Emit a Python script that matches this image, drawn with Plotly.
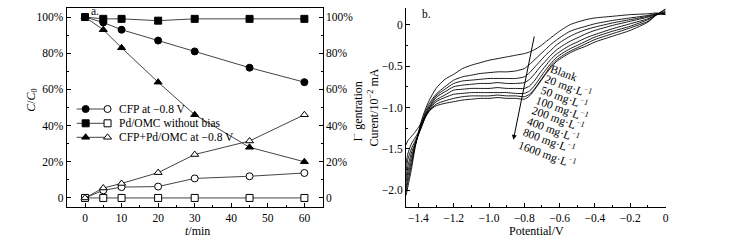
import plotly.graph_objects as go

# ---------------- data: panel a ----------------
time_min = [0, 5, 10, 20, 30, 45, 60]
cfp_conc = [100, 97, 93, 87, 81, 72, 64]
cfp_iodide = [0, 4.2, 6, 6.3, 10.8, 12, 13.8]
pdomc_conc = [100, 99, 99, 98, 99, 99, 99]
pdomc_iodide = [0, 0, 0, 0, 0, 0, 0]
combo_conc = [100, 93, 83, 64, 46, 28, 20]
combo_iodide = [0, 5.5, 8, 14, 24, 31.5, 46]
series_names = ["CFP at \u22120.8 V", "Pd/OMC without bias", "CFP+Pd/OMC at \u22120.8 V"]
pct_ticks = [0, 20, 40, 60, 80, 100]
pct_labels = ["0", "20%", "40%", "60%", "80%", "100%"]

# ---------------- data: panel b ----------------
potential = [-1.47, -1.46, -1.44, -1.42, -1.40, -1.38, -1.36, -1.34, -1.30, -1.25, -1.20, -1.15,
             -1.10, -1.05, -1.00, -0.95, -0.90, -0.85, -0.80, -0.77, -0.74, -0.71, -0.68, -0.65,
             -0.62, -0.58, -0.54, -0.50, -0.45, -0.40, -0.30, -0.20, -0.10, -0.05, 0.00]
cv_blank = [-2.06, -1.96, -1.75, -1.50, -1.30, -1.14, -1.02, -0.92, -0.77, -0.66, -0.60, -0.53,
            -0.49, -0.46, -0.43, -0.41, -0.39, -0.37, -0.35, -0.33, -0.30, -0.26, -0.21, -0.16,
            -0.11, -0.05, 0.00, 0.03, 0.06, 0.08, 0.10, 0.12, 0.13, 0.14, 0.12]
cv_20 = [-2.02, -1.90, -1.70, -1.48, -1.31, -1.17, -1.05, -0.96, -0.84, -0.75, -0.67, -0.63,
         -0.61, -0.59, -0.58, -0.57, -0.57, -0.56, -0.53, -0.48, -0.42, -0.36, -0.30, -0.24,
         -0.19, -0.13, -0.08, -0.05, -0.02, 0.01, 0.05, 0.08, 0.11, 0.13, 0.12]
cv_50 = [-1.97, -1.84, -1.65, -1.47, -1.32, -1.19, -1.07, -0.99, -0.86, -0.78, -0.71, -0.68,
         -0.67, -0.66, -0.65, -0.65, -0.65, -0.65, -0.63, -0.58, -0.51, -0.44, -0.37, -0.31,
         -0.25, -0.19, -0.14, -0.10, -0.06, -0.03, 0.02, 0.06, 0.10, 0.13, 0.13]
cv_100 = [-1.90, -1.78, -1.60, -1.46, -1.33, -1.21, -1.09, -1.01, -0.88, -0.81, -0.75, -0.73,
          -0.72, -0.71, -0.71, -0.70, -0.71, -0.71, -0.70, -0.66, -0.59, -0.51, -0.44, -0.37,
          -0.31, -0.25, -0.20, -0.16, -0.11, -0.07, -0.01, 0.04, 0.09, 0.12, 0.14]
cv_200 = [-1.84, -1.71, -1.55, -1.44, -1.33, -1.22, -1.10, -1.02, -0.91, -0.85, -0.79, -0.78,
          -0.77, -0.77, -0.77, -0.76, -0.77, -0.77, -0.77, -0.74, -0.67, -0.58, -0.50, -0.42,
          -0.36, -0.30, -0.25, -0.21, -0.16, -0.12, -0.05, 0.01, 0.07, 0.12, 0.15]
cv_400 = [-1.76, -1.63, -1.50, -1.41, -1.32, -1.22, -1.11, -1.04, -0.93, -0.88, -0.84, -0.83,
          -0.82, -0.82, -0.82, -0.82, -0.82, -0.83, -0.83, -0.80, -0.73, -0.64, -0.55, -0.47,
          -0.40, -0.34, -0.29, -0.25, -0.20, -0.15, -0.08, -0.02, 0.06, 0.12, 0.16]
cv_800 = [-1.68, -1.56, -1.44, -1.37, -1.30, -1.21, -1.12, -1.05, -0.96, -0.92, -0.89, -0.87,
          -0.86, -0.86, -0.86, -0.85, -0.86, -0.86, -0.87, -0.84, -0.77, -0.68, -0.59, -0.50,
          -0.43, -0.37, -0.32, -0.28, -0.23, -0.18, -0.11, -0.04, 0.04, 0.12, 0.18]
cv_1600 = [-1.45, -1.40, -1.35, -1.30, -1.24, -1.17, -1.10, -1.04, -0.98, -0.95, -0.93, -0.91,
           -0.90, -0.89, -0.89, -0.88, -0.89, -0.89, -0.90, -0.86, -0.78, -0.69, -0.60, -0.52,
           -0.45, -0.39, -0.34, -0.30, -0.26, -0.21, -0.14, -0.07, 0.03, 0.12, 0.19]
cv_labels = ["Blank", "20 mg\u00b7L<sup>\u22121</sup>", "50 mg\u00b7L<sup>\u22121</sup>",
             "100 mg\u00b7L<sup>\u22121</sup>", "200 mg\u00b7L<sup>\u22121</sup>",
             "400 mg\u00b7L<sup>\u22121</sup>", "800 mg\u00b7L<sup>\u22121</sup>",
             "1600 mg\u00b7L<sup>\u22121</sup>"]
cv_label_x = [-0.575, -0.548, -0.573, -0.588, -0.611, -0.636, -0.660, -0.670]
cv_label_y = [-0.588, -0.745, -0.883, -1.011, -1.132, -1.270, -1.398, -1.572]
pot_ticks = [-1.4, -1.2, -1.0, -0.8, -0.6, -0.4, -0.2, 0]
pot_labels = ["\u22121.4", "\u22121.2", "\u22121.0", "\u22120.8", "\u22120.6", "\u22120.4", "\u22120.2", "0"]
cur_ticks = [-2.0, -1.5, -1.0, -0.5, 0]
cur_labels = ["\u22122.0", "\u22121.5", "\u22121.0", "\u22120.5", "0"]

W, H = 732, 251
FONT = "Liberation Serif"
FS = 11.5
LINE = "#444444"

def px_x(p):
    return p / W

def px_y(p):
    return (H - p) / H

dom_a = [px_x(67), px_x(324)]
dom_b = [px_x(407.7), px_x(668.3)]
dom_y = [px_y(207), px_y(8)]

fig = go.Figure()

def mk(symbol, filled):
    return dict(symbol=symbol, size=7, color="black" if filled else "white",
                line=dict(color="black", width=1))

conc_sets = [(cfp_conc, "circle"), (pdomc_conc, "square"), (combo_conc, "triangle-up")]
iod_sets = [(cfp_iodide, "circle"), (pdomc_iodide, "square"), (combo_iodide, "triangle-up")]

for (vals, sym), name in zip(iod_sets, series_names):
    fig.add_trace(go.Scatter(x=time_min, y=vals, mode="lines+markers", name=name,
                             line=dict(color=LINE, width=1), marker=mk(sym, False),
                             xaxis="x", yaxis="y2", showlegend=False, cliponaxis=False))
for (vals, sym), name in zip(conc_sets, series_names):
    fig.add_trace(go.Scatter(x=time_min, y=vals, mode="lines+markers", name=name,
                             line=dict(color=LINE, width=1), marker=mk(sym, True),
                             xaxis="x", yaxis="y", showlegend=False, cliponaxis=False))

# custom legend (glyph layout in pixel coords on a hidden helper axis)
legend_rows = [109, 123.3, 137.3]
for row, sym, name in zip(legend_rows, ["circle", "square", "triangle-up"], series_names):
    fig.add_trace(go.Scatter(x=[77, 108], y=[row, row], mode="lines",
                             line=dict(color=LINE, width=1), xaxis="x3", yaxis="y4",
                             showlegend=False, hoverinfo="skip"))
    fig.add_trace(go.Scatter(x=[86], y=[row], mode="markers", marker=mk(sym, True),
                             xaxis="x3", yaxis="y4", showlegend=False, hoverinfo="skip"))
    fig.add_trace(go.Scatter(x=[108], y=[row], mode="markers", marker=mk(sym, False),
                             xaxis="x3", yaxis="y4", showlegend=False, hoverinfo="skip"))
    fig.add_annotation(x=px_x(117), y=px_y(row), xref="paper", yref="paper", text=name,
                       showarrow=False, xanchor="left", yanchor="middle",
                       font=dict(family=FONT, size=FS, color="black"))

# panel b curves
for vals, lab in zip([cv_blank, cv_20, cv_50, cv_100, cv_200, cv_400, cv_800, cv_1600], cv_labels):
    fig.add_trace(go.Scatter(x=potential, y=vals, mode="lines", name=lab,
                             line=dict(color="black", width=0.9, shape="spline", smoothing=0.6),
                             xaxis="x2", yaxis="y3", showlegend=False))

for lab, lx, ly in zip(cv_labels, cv_label_x, cv_label_y):
    fig.add_annotation(x=lx, y=ly, xref="x2", yref="y3", text=lab, textangle=20,
                       showarrow=False, xanchor="center", yanchor="middle",
                       font=dict(family=FONT, size=FS, color="black"))

fig.add_annotation(x=-0.862, y=-1.39, ax=-0.742, ay=-0.125, xref="x2", yref="y3",
                   axref="x2", ayref="y3", text="", showarrow=True, arrowhead=2,
                   arrowsize=1, arrowwidth=1, arrowcolor="black")

tickfont = dict(family=FONT, size=FS, color="black")
common = dict(showline=True, linecolor="black", linewidth=1, ticks="inside", ticklen=4,
              tickcolor="black", tickwidth=1, showgrid=False, zeroline=False, tickfont=tickfont)

fig.update_layout(
    width=W, height=H, margin=dict(l=0, r=0, t=0, b=0),
    paper_bgcolor="white", plot_bgcolor="rgba(0,0,0,0)",
    xaxis=dict(domain=dom_a, range=[-5, 65], anchor="y", tickvals=[0, 10, 20, 30, 40, 50, 60],
               mirror=True, minor=dict(ticks="inside", ticklen=2, dtick=5, tickcolor="black"), **common),
    yaxis=dict(domain=dom_y, range=[-5, 105], anchor="x", tickvals=pct_ticks, ticktext=pct_labels,
               minor=dict(ticks="inside", ticklen=2, dtick=10, tickcolor="black"), **common),
    yaxis2=dict(domain=dom_y, range=[-5, 105], anchor="x", overlaying="y", side="right",
                tickvals=pct_ticks, ticktext=pct_labels,
                minor=dict(ticks="inside", ticklen=2, dtick=10, tickcolor="black"), **common),
    xaxis2=dict(domain=dom_b, range=[-1.47, 0], anchor="y3", tickvals=pot_ticks, ticktext=pot_labels,
                minor=dict(ticks="inside", ticklen=2, dtick=0.1, tickcolor="black"), **common),
    yaxis3=dict(domain=dom_y, range=[-2.2, 0.2], anchor="x2", tickvals=cur_ticks, ticktext=cur_labels,
                minor=dict(ticks="inside", ticklen=2, dtick=0.25, tickcolor="black"), **common),
    xaxis3=dict(domain=dom_a, range=[67, 324], anchor="y4", visible=False, fixedrange=True),
    yaxis4=dict(domain=dom_y, range=[207, 8], anchor="x3", visible=False, fixedrange=True),
)

titles = [
    ("<i>t</i>/min", 198.3, 231, 0, 12),
    ("Potential/V", 538.3, 231, 0, 12),
    ("<i>C</i>/<i>C</i><sub>0</sub>", 32, 100, -90, 12),
    ("I<sup>\u2212</sup> gentration", 358, 112, -90, 12),
    ("Curent/10<sup>\u22122</sup> mA", 376, 107, -90, 12),
    ("a.", 95, 11, 0, FS),
    ("b.", 428, 14, 0, FS),
]
for txt, xx, yy, ang, fs in titles:
    fig.add_annotation(x=px_x(xx), y=px_y(yy), xref="paper", yref="paper", text=txt,
                       textangle=ang, showarrow=False, xanchor="center", yanchor="middle",
                       font=dict(family=FONT, size=fs, color="black"))

fig.write_html("out.html", config={"displayModeBar": False},
               post_script="document.body.style.margin='0px';")
